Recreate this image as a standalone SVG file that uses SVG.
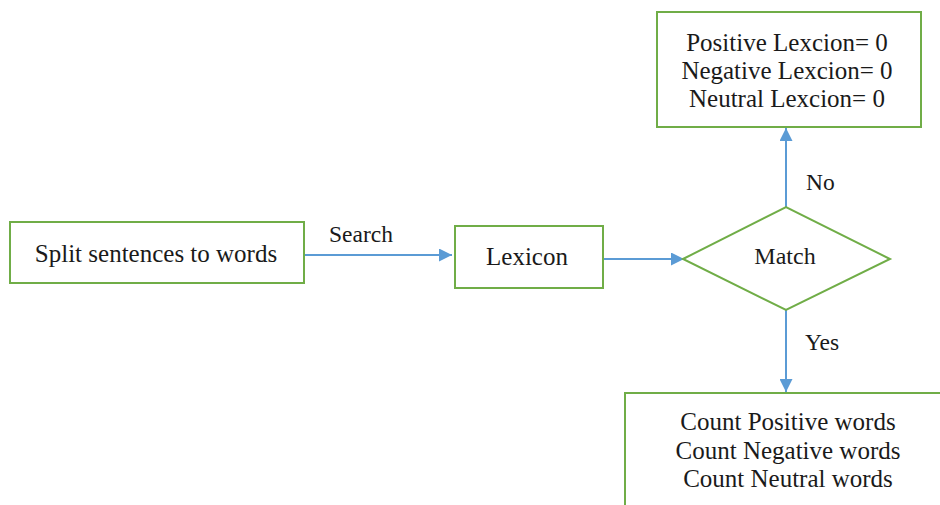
<svg xmlns="http://www.w3.org/2000/svg" width="940" height="505" viewBox="0 0 940 505">
<style>
.box{fill:#fff;stroke:#70AD47;stroke-width:2}
.t{font-family:'Liberation Serif','Times New Roman',Times,'DejaVu Serif',serif;font-size:25px;fill:#1a1a1a;text-anchor:middle}
.lbl{font-family:'Liberation Serif','Times New Roman',Times,'DejaVu Serif',serif;font-size:23.5px;fill:#1a1a1a}
.c{stroke:#5B9BD5;stroke-width:2;fill:none;marker-end:url(#ah)}
</style>
<defs>
<marker id="ah" viewBox="0 0 10 10" refX="10" refY="5" markerWidth="6.5" markerHeight="6.5" markerUnits="strokeWidth" orient="auto">
<path d="M0,0 L10,5 L0,10 z" fill="#5B9BD5"/>
</marker>
</defs>
<rect width="940" height="505" fill="#fff"/>
<g id="connectors">
<line class="c" x1="304" y1="255" x2="452" y2="255"/>
<text class="lbl" x="329" y="242">Search</text>
<line class="c" x1="603" y1="259" x2="684" y2="259"/>
<line class="c" x1="786" y1="207" x2="786" y2="128"/>
<text class="lbl" x="806" y="190">No</text>
<line class="c" x1="786" y1="310" x2="786" y2="392"/>
<text class="lbl" x="805" y="350">Yes</text>
</g>
<g id="split">
<rect class="box" x="10" y="222" width="294" height="61"/>
<text class="t" x="156" y="262">Split sentences to words</text>
</g>
<g id="lexicon">
<rect class="box" x="455" y="226" width="148" height="62"/>
<text class="t" x="527" y="265">Lexicon</text>
</g>
<g id="match">
<polygon class="box" points="683,259 786,207 890,259 786,310"/>
<text class="t" x="785" y="264" style="font-size:24px">Match</text>
</g>
<g id="zero">
<rect class="box" x="657" y="12" width="264" height="115"/>
<text class="t" x="787" y="51">Positive Lexcion= 0</text>
<text class="t" x="787" y="79">Negative Lexcion= 0</text>
<text class="t" x="787" y="107">Neutral Lexcion= 0</text>
</g>
<g id="count">
<rect class="box" x="625" y="393" width="330" height="130"/>
<text class="t" x="788" y="430">Count Positive words</text>
<text class="t" x="788" y="459">Count Negative words</text>
<text class="t" x="788" y="487">Count Neutral words</text>
</g>
</svg>
